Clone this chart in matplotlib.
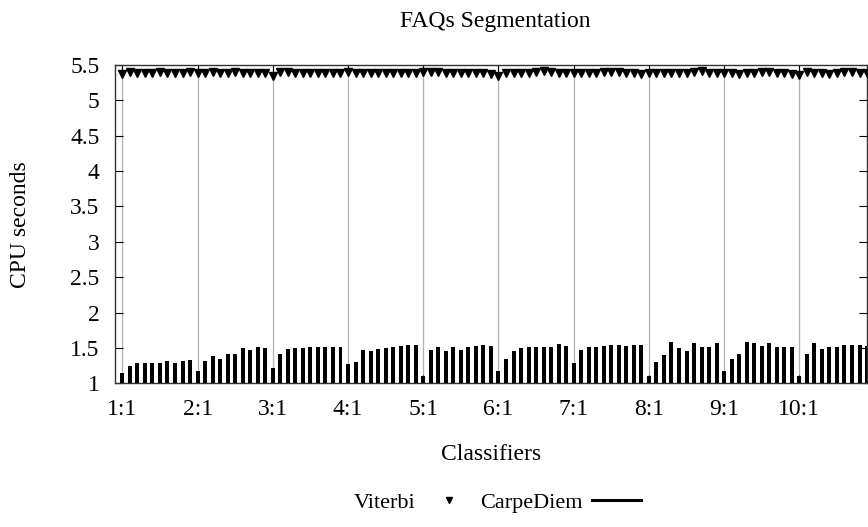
import matplotlib
matplotlib.use('Agg')
import matplotlib.pyplot as plt
from matplotlib.lines import Line2D
import numpy as np

plt.rcParams['font.family'] = ['Liberation Serif', 'DejaVu Serif']

# CPU seconds per classifier run, 10 runs per classifier group
carpediem = [
    1.15, 1.25, 1.29, 1.29, 1.29, 1.29, 1.31, 1.29, 1.32, 1.33,
    1.17, 1.32, 1.38, 1.34, 1.41, 1.41, 1.50, 1.47, 1.51, 1.50,
    1.21, 1.41, 1.48, 1.50, 1.50, 1.51, 1.52, 1.51, 1.51, 1.51,
    1.27, 1.30, 1.47, 1.46, 1.49, 1.50, 1.51, 1.53, 1.54, 1.54,
    1.10, 1.47, 1.52, 1.46, 1.51, 1.47, 1.52, 1.53, 1.54, 1.53,
    1.17, 1.34, 1.45, 1.50, 1.51, 1.51, 1.52, 1.52, 1.55, 1.53,
    1.28, 1.47, 1.52, 1.52, 1.53, 1.54, 1.54, 1.53, 1.54, 1.54,
    1.10, 1.30, 1.40, 1.58, 1.50, 1.46, 1.57, 1.52, 1.51, 1.57,
    1.18, 1.35, 1.42, 1.58, 1.57, 1.53, 1.57, 1.52, 1.51, 1.52,
    1.10, 1.42, 1.57, 1.49, 1.51, 1.51, 1.54, 1.54, 1.54, 1.53,
]
viterbi = [
    5.37, 5.40, 5.39, 5.38, 5.39, 5.40, 5.39, 5.38, 5.39, 5.40,
    5.39, 5.39, 5.40, 5.38, 5.39, 5.40, 5.39, 5.38, 5.38, 5.38,
    5.35, 5.40, 5.40, 5.39, 5.39, 5.39, 5.39, 5.39, 5.38, 5.39,
    5.40, 5.39, 5.39, 5.39, 5.39, 5.38, 5.39, 5.39, 5.38, 5.38,
    5.40, 5.40, 5.40, 5.39, 5.38, 5.38, 5.39, 5.39, 5.38, 5.37,
    5.35, 5.39, 5.39, 5.38, 5.38, 5.40, 5.41, 5.40, 5.39, 5.39,
    5.38, 5.38, 5.39, 5.38, 5.40, 5.40, 5.40, 5.39, 5.38, 5.37,
    5.39, 5.39, 5.38, 5.38, 5.38, 5.38, 5.40, 5.41, 5.39, 5.38,
    5.38, 5.38, 5.37, 5.38, 5.39, 5.40, 5.40, 5.39, 5.38, 5.37,
    5.36, 5.40, 5.39, 5.38, 5.37, 5.39, 5.40, 5.40, 5.39, 5.38,
]
tick_labels = ['1:1', '2:1', '3:1', '4:1', '5:1', '6:1', '7:1', '8:1', '9:1', '10:1']

FS = 17
x = np.arange(1, len(carpediem) + 1)

fig = plt.figure(figsize=(8.68, 5.27), dpi=100)
ax = fig.add_axes([0.1323, 0.2727, 0.8666, 0.604])

ax.bar(x, carpediem, width=0.53, color='black', zorder=3)
ax.plot(x, viterbi, linestyle='none', marker='v', markersize=6,
        color='black', zorder=4, clip_on=False)

ax.set_xlim(0, 100)
ax.set_ylim(1, 5.5)
ax.set_xticks(np.arange(1, 100, 10))
ax.set_xticklabels(tick_labels)
ax.set_yticks(np.arange(1, 5.51, 0.5))
ax.set_yticklabels(['1', '1.5', '2', '2.5', '3', '3.5', '4', '4.5', '5', '5.5'])
ax.tick_params(axis='both', direction='in', length=6, width=0.8,
               labelsize=FS, top=True, right=True)
ax.tick_params(axis='x', pad=11)
ax.tick_params(axis='y', pad=11)
ax.grid(axis='x', color='#b0b0b0', linewidth=0.9, zorder=1)
for sp in ax.spines.values():
    sp.set_linewidth(1.0)
    sp.set_color('#333333')

fig.text(0.57, 1 - 21 / 527, 'FAQs Segmentation', fontsize=FS, ha='center', va='center')
ax.set_xlabel('Classifiers', fontsize=FS)
ax.xaxis.set_label_coords(0.5, -0.225)
ax.xaxis.label.set_va('center')
ax.set_ylabel('CPU seconds', fontsize=FS)
ax.yaxis.set_label_coords(-0.126, 0.5)
ax.yaxis.label.set_va('center')

handles = [
    Line2D([], [], linestyle='none', marker='v', markersize=5, color='black'),
    Line2D([], [], color='black', linewidth=2.2),
]
fig.legend(handles, ['Viterbi', 'CarpeDiem'], loc='center', bbox_to_anchor=(0.573, 0.047),
           ncol=2, frameon=False, markerfirst=False, fontsize=16,
           handlelength=2.2, handletextpad=0.4, columnspacing=0.3)

fig.savefig('out.png', dpi=100)
